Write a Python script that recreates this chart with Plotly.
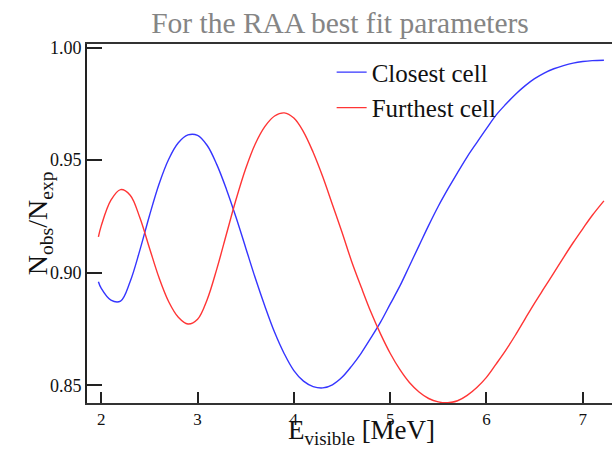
import plotly.graph_objects as go

# Visible energy (MeV)
energy = [1.97, 2.0, 2.1, 2.2, 2.3, 2.4, 2.5, 2.6, 2.7, 2.8, 2.9,
          3.0, 3.1, 3.2, 3.3, 3.4, 3.5, 3.6, 3.7, 3.8, 3.9,
          4.0, 4.1, 4.2, 4.3, 4.4, 4.5, 4.6, 4.7, 4.8, 4.9,
          5.0, 5.1, 5.2, 5.3, 5.4, 5.5, 5.6, 5.7, 5.8, 5.9,
          6.0, 6.1, 6.2, 6.3, 6.4, 6.5, 6.6, 6.7, 6.8, 6.9,
          7.0, 7.1, 7.22]

closest_cell = [0.8960, 0.8930, 0.8878, 0.8874, 0.8961, 0.9099, 0.9253, 0.9394, 0.9504, 0.9577, 0.9612,
                0.9610, 0.9565, 0.9480, 0.9370, 0.9245, 0.9110, 0.8975, 0.8850, 0.8735, 0.8640,
                0.8565, 0.8518, 0.8494, 0.8488, 0.8502, 0.8535, 0.8585, 0.8643, 0.8710, 0.8780,
                0.8860, 0.8940, 0.9030, 0.9120, 0.9210, 0.9295, 0.9372, 0.9445, 0.9515, 0.9578,
                0.9640, 0.9700, 0.9748, 0.9792, 0.9830, 0.9862, 0.9887, 0.9906, 0.9920, 0.9931,
                0.9938, 0.9942, 0.9944]

furthest_cell = [0.9159, 0.9209, 0.9322, 0.9369, 0.9344, 0.9245, 0.9110, 0.8977, 0.8871, 0.8802, 0.8772,
                 0.8793, 0.8881, 0.9017, 0.9172, 0.9326, 0.9463, 0.9573, 0.9650, 0.9696, 0.9710,
                 0.9687, 0.9626, 0.9535, 0.9426, 0.9303, 0.9180, 0.9050, 0.8935, 0.8825, 0.8728,
                 0.8642, 0.8570, 0.8512, 0.8470, 0.8441, 0.8426, 0.8422, 0.8431, 0.8455, 0.8490,
                 0.8535, 0.8594, 0.8655, 0.8722, 0.8794, 0.8865, 0.8932, 0.8999, 0.9067, 0.9133,
                 0.9195, 0.9255, 0.9319]

x_ticks = [2, 3, 4, 5, 6, 7]
y_ticks = [0.85, 0.90, 0.95, 1.00]
y_tick_labels = ["0.85", "0.90", "0.95", "1.00"]

SERIF = "Liberation Serif, Times New Roman, serif"

fig = go.Figure()
fig.add_trace(go.Scatter(x=energy, y=closest_cell, mode="lines", name="Closest cell",
                         line=dict(color="#3535ff", width=1.4, shape="spline", smoothing=1.0)))
fig.add_trace(go.Scatter(x=energy, y=furthest_cell, mode="lines", name="Furthest cell",
                         line=dict(color="#ff3535", width=1.4, shape="spline", smoothing=1.0)))

fig.update_layout(
    width=612, height=449,
    margin=dict(l=87, r=0, t=44, b=46),
    paper_bgcolor="white", plot_bgcolor="white",
    font=dict(family=SERIF, color="#111111"),
    title=dict(text="For the RAA best fit parameters", font=dict(family=SERIF, size=29.5, color="#858585"),
               x=340 / 612, xanchor="center", xref="container",
               y=1 - 23 / 449, yanchor="middle", yref="container"),
    showlegend=True,
    legend=dict(x=0.466, y=0.985, xanchor="left", yanchor="top", bgcolor="rgba(0,0,0,0)",
                font=dict(family=SERIF, size=25, color="#111111"), tracegroupgap=0),
    xaxis=dict(range=[1.8515, 7.304], tickmode="array", tickvals=x_ticks,
               ticks="inside", ticklen=11, tickwidth=1.5, tickcolor="#222",
               showline=True, linecolor="#333", linewidth=2, mirror=True,
               showgrid=False, zeroline=False,
               tickfont=dict(family=SERIF, size=17, color="#111")),
    yaxis=dict(range=[0.8421, 1.0016], tickmode="array", tickvals=y_ticks, ticktext=y_tick_labels,
               ticks="inside", ticklen=15, tickwidth=1.5, tickcolor="#222",
               showline=True, linecolor="#222", linewidth=1.6, mirror=False,
               showgrid=False, zeroline=False,
               tickfont=dict(family=SERIF, size=18, color="#111")),
    annotations=[
        dict(text="N<sub>obs</sub>/N<sub>exp</sub>", xref="paper", yref="paper",
             x=-0.09, y=0.5, xanchor="center", yanchor="middle", textangle=-90, showarrow=False,
             font=dict(family=SERIF, size=28, color="#111")),
        dict(text="E<sub>visible</sub> [MeV]", xref="paper", yref="paper",
             x=0.523, y=-0.082, xanchor="center", yanchor="middle", showarrow=False,
             font=dict(family=SERIF, size=27, color="#111")),
    ],
)

fig.write_html("out.html")
